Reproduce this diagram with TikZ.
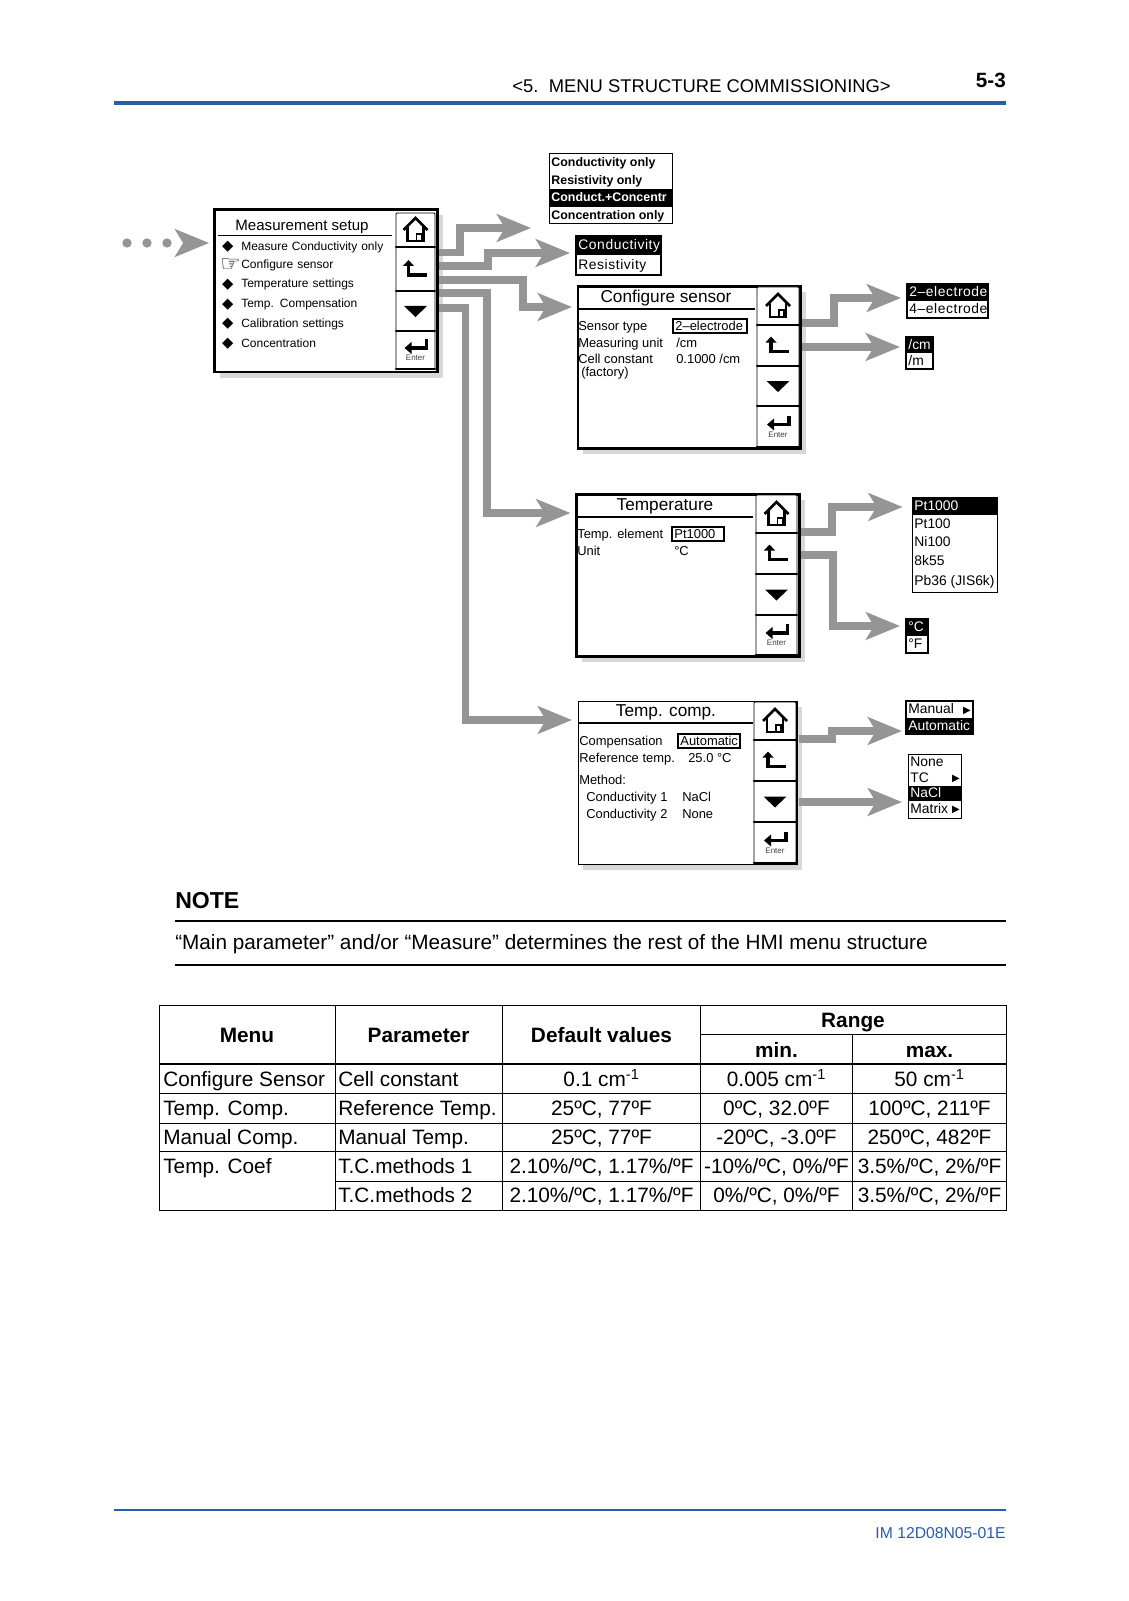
\documentclass[tikz,border=0pt]{standalone}
\usepackage{fontspec}
\setmainfont{Liberation Sans}
\newfontfamily\symbfont{DejaVu Sans}
\usepackage{xcolor}
\usetikzlibrary{positioning,arrows.meta,shapes.geometric,shadows}
\definecolor{flowgray}{HTML}{959595}
\definecolor{shadowgray}{HTML}{D8D8D8}
\definecolor{pageblue}{HTML}{2A5CAA}
\newcommand{\fsize}[1]{\fontsize{#1}{#1}\selectfont}
\tikzset{
  panel/.style={draw,fill=white,line width=2.2pt,copy shadow={shadow xshift=3.8pt,shadow yshift=-4.4pt,draw=none,fill=shadowgray}},
  softkey/.style={draw,fill=white,line width=.7pt,rounded corners=.8pt},
  keyedge/.style={line width=1.9pt,line cap=round},
  flow/.style={draw=flowgray,line width=5.4pt,shorten <=1.2pt,shorten >=4.5pt,-{Stealth[length=25.5pt,width=20.5pt,inset=6pt]}},
  menutext/.style={font=\fsize{9},inner sep=0pt,text width=120pt,align=left,text height=7pt,text depth=2pt,minimum height=14.4pt},
  paneltext/.style={font=\fsize{9.7},inner sep=0pt,anchor=west,text height=7pt,text depth=2pt,yshift=-.75pt},
  paneltitle/.style={font=\fsize{12.9},inner sep=0pt,text height=9.5pt,text depth=2.8pt,yshift=-1.2pt},
  symb/.style={font=\symbfont\fsize{11},inner sep=0pt},
  optrow/.style={font=\fsize{10.4},inner sep=0pt,text height=8.4pt,text depth=2pt},
  optsel/.style={optrow,fill=black,text=white},
  spaced/.style={font=\fsize{10.4}\addfontfeature{LetterSpace=4}},
  boldrow/.style={optrow,font=\bfseries\fsize{9.3},text height=8pt},
  boldsel/.style={boldrow,fill=black,text=white},
  optframe/.style={draw,line width=.75pt},
  valbox/.style={optrow,draw,line width=.8pt,font=\fsize{9.7}},
  headtext/.style={font=\bfseries\fsize{15.6},inner sep=0pt,text height=11.5pt,text depth=3.4pt,yshift=-1.5pt},
  cellc/.style={font=\fsize{15.6},inner sep=0pt,text height=11.5pt,text depth=3.4pt,yshift=-1.5pt},
  celll/.style={cellc,anchor=west},
  rule/.style={line width=.75pt},
  homeicon/.pic={
    \draw[line width=1.9pt,line join=miter] (-12,0) -- (0,-12) -- (12,0);
    \draw[line width=1.6pt] (-8,-3) -- (-8,11) -- (8,11) -- (8,-3);
    \draw[line width=1pt] (1,11) -- (1,4) -- (6,4) -- (6,11);
  },
  backicon/.pic={
    \fill (-7,-9) -- (-1.5,-3) -- (-12.5,-3) -- cycle;
    \draw[line width=2.3pt] (-7,-4) -- (-7,6) -- (11,6);
  },
  downicon/.pic={
    \fill (-11.5,-5) -- (11.5,-5) -- (0,6) -- cycle;
  },
  entericon/.pic={
    \draw[line width=2.3pt] (11,-11) -- (11,-2) -- (-5,-2);
    \fill (-11,-2) -- (-4,-8) -- (-4,4) -- cycle;
    \node[font=\fsize{6},text=black!75,inner sep=0pt] (label) at (0,8) {Enter};
  },
}
% x1 y1 x2 y2 are picture coordinates of the corners
\newcommand{\boxnode}[7]{%
  \pgfmathsetmacro{\boxwd}{(#5-#3)*.75}%
  \pgfmathsetmacro{\boxht}{(#6-#4)*.75}%
  \node[#1,anchor=north west,outer sep=0pt,minimum width=\boxwd pt,minimum height=\boxht pt] (#2) at (#3,#4) {#7};}
\newcommand{\rownode}[7]{%
  \pgfmathsetmacro{\rowwd}{(#5-#3)*.75-3.6}%
  \boxnode{#1}{#2}{#3}{#4}{#5}{#6}{\makebox[\rowwd pt][l]{#7}}}
% the four keys at the right of a panel
\newcommand{\softkeys}[8]{%
  \boxnode{softkey}{#1home}{#2}{#4}{#3}{#5}{}
  \boxnode{softkey}{#1back}{#2}{#5}{#3}{#6}{}
  \boxnode{softkey}{#1down}{#2}{#6}{#3}{#7}{}
  \boxnode{softkey}{#1enter}{#2}{#7}{#3}{#8}{}
  \draw[keyedge] (#1home.south west) -- (#1home.south east);
  \draw[keyedge] (#1back.south west) -- (#1back.south east);
  \draw[keyedge] (#1down.south west) -- (#1down.south east);
  \draw[keyedge] (#1enter.south west) -- (#1enter.south east);
  \pic at (#1home) {homeicon};
  \pic at (#1back) {backicon};
  \pic at (#1down) {downicon};
  \pic (#1enterpic) at (#1enter) {entericon};}

\begin{document}
\begin{tikzpicture}[x=.75pt,y=-.75pt,node distance=0pt]
\path[use as bounding box,fill=white] (0,0) rectangle (1128,1601);

% page head
\node[font=\fsize{13.8},inner sep=0pt,anchor=base east] (pagehead) at (891,92.5) {<5.~~MENU STRUCTURE COMMISSIONING>};
\node[font=\bfseries\fsize{15.5},inner sep=0pt,anchor=base east] (pagenum) at (1006,88) {5-3};
\draw[pageblue,line width=3pt] (114,103.5) -- (1006,103.5);

% measurement setup
\node[circle,fill=flowgray,minimum size=7pt,inner sep=0pt] (dota) at (127,243) {};
\node[circle,fill=flowgray,minimum size=7pt,inner sep=0pt] (dotb) at (147,243) {};
\node[circle,fill=flowgray,minimum size=7pt,inner sep=0pt] (dotc) at (167,243) {};
\boxnode{panel}{setup}{214.5}{209.5}{437.5}{372}{}
\softkeys{setup}{396}{435}{213}{247}{291}{331}{369}
\node[font=\fsize{11.3},inner sep=0pt] (setuptitle) at (302,227) {Measurement setup};
\draw[line width=.8pt] (218,235.5) -- (392,235.5);
\node[menutext,anchor=west] (meas) at (241,247) {Measure Conductivity only};
\node[menutext,below=of meas,yshift=1pt] (conf) {Configure sensor};
\node[menutext,below=of conf,yshift=.5pt] (temp) {Temperature settings};
\node[menutext,below=of temp] (comp) {Temp. Compensation};
\node[menutext,below=of comp] (calib) {Calibration settings};
\node[menutext,below=of calib] (conc) {Concentration};
\node[symb,left=5.5pt of meas] (bula) {◆};
\node[symb,font=\symbfont\fsize{17},left=0pt of conf] (hand) {☞};
\node[symb,left=5.5pt of temp] (bulb) {◆};
\node[symb,left=5.5pt of comp] (bulc) {◆};
\node[symb,left=5.5pt of calib] (buld) {◆};
\node[symb,left=5.5pt of conc] (bule) {◆};

% mode lists
\rownode{boldrow}{moderowa}{549}{154}{672}{172}{Conductivity only}
\rownode{boldrow}{moderowb}{549}{172}{672}{189}{Resistivity only}
\rownode{boldsel}{moderowc}{549}{189}{672}{207}{Conduct.+Concentr}
\rownode{boldrow}{moderowd}{549}{207}{672}{224}{Concentration only}
\boxnode{optframe}{mode}{549}{154}{672}{224}{}
\rownode{optsel,spaced}{mainrowa}{576}{236}{661}{255}{Conductivity}
\rownode{optrow,spaced}{mainrowb}{576}{255}{661}{275}{Resistivity}
\boxnode{optframe,line width=1.3pt}{main}{576}{236}{661}{275}{}

% configure sensor
\boxnode{panel}{config}{578}{286.5}{800.5}{448.5}{}
\softkeys{config}{757}{799}{287}{325}{366}{406}{447}
\node[paneltitle] (configtitle) at (666,296) {Configure sensor};
\draw[line width=.8pt] (578,309) -- (755,309);
\node[paneltext] (cfgtype) at (578,326) {Sensor type};
\node[paneltext] (cfgunit) at (578,343) {Measuring unit};
\node[paneltext] (cfgcell) at (578,359) {Cell constant};
\node[paneltext] (cfgfact) at (581,372) {(factory)};
\rownode{valbox}{cfgtypeval}{673}{319}{747}{333}{2–electrode}
\node[paneltext] (cfgunitval) at (676,343) {/cm};
\node[paneltext] (cfgcellval) at (676,359) {0.1000 /cm};
\rownode{optsel,spaced}{elecrowa}{907}{284}{988}{301}{2–electrode}
\rownode{optrow,spaced}{elecrowb}{907}{301}{988}{318}{4–electrode}
\boxnode{optframe,line width=1.3pt}{elec}{907}{284}{988}{318}{}
\rownode{optsel}{unitrowa}{906}{337}{933}{353}{/cm}
\rownode{optrow}{unitrowb}{906}{353}{933}{369}{/m}
\boxnode{optframe,line width=1.3pt}{unit}{906}{337}{933}{369}{}

% temperature
\boxnode{panel}{temper}{576.5}{494.5}{799.5}{656.5}{}
\softkeys{temper}{756}{797}{495}{533}{574}{615}{655}
\node[paneltitle] (tempertitle) at (665,504) {Temperature};
\draw[line width=.8pt] (576,517) -- (753,517);
\node[paneltext] (tempelem) at (577,534) {Temp. element};
\node[paneltext] (tempunit) at (577,551) {Unit};
\rownode{valbox}{tempelemval}{672}{527}{724}{541}{Pt1000}
\node[paneltext] (tempunitval) at (674,551) {°C};
\rownode{optsel}{ptrowa}{912}{497}{997}{515}{Pt1000}
\rownode{optrow}{ptrowb}{912}{515}{997}{533}{Pt100}
\rownode{optrow}{ptrowc}{912}{533}{997}{552}{Ni100}
\rownode{optrow}{ptrowd}{912}{552}{997}{571}{8k55}
\rownode{optrow}{ptrowe}{912}{571}{997}{591}{Pb36 (JIS6k)}
\boxnode{optframe}{ptlist}{912}{497}{997}{592}{}
\rownode{optsel}{degrowa}{906}{619}{928}{636}{°C}
\rownode{optrow}{degrowb}{906}{636}{928}{653}{°F}
\boxnode{optframe,line width=1.3pt}{deg}{906}{619}{928}{653}{}

% temp. comp.
\boxnode{panel,line width=.75pt}{tcomp}{578}{701}{797}{864}{}
\softkeys{tcomp}{754}{796}{702}{740}{781}{822}{863}
\draw[line width=1.8pt] (797,702) -- (797,864);
\node[paneltitle,yshift=.5pt] (tcomptitle) at (666,711) {Temp. comp.};
\draw[line width=.8pt] (578,723) -- (753,723);
\node[paneltext] (tccomp) at (579,741) {Compensation};
\node[paneltext] (tcref) at (579,758) {Reference temp.};
\node[paneltext] (tcmeth) at (579,780) {Method:};
\node[paneltext] (tcone) at (586,797) {Conductivity 1};
\node[paneltext] (tctwo) at (586,814) {Conductivity 2};
\rownode{valbox}{tccompval}{678}{734}{740}{748}{Automatic}
\node[paneltext] (tcrefval) at (688,758) {25.0 °C};
\node[paneltext] (tconeval) at (682,797) {NaCl};
\node[paneltext] (tctwoval) at (682,814) {None};
\rownode{optrow}{manrowa}{906}{701}{973}{718}{Manual}
\rownode{optsel}{manrowb}{906}{718}{973}{734}{Automatic}
\boxnode{optframe,line width=1.3pt}{man}{906}{701}{973}{734}{}
\node[symb,font=\symbfont\fsize{7.5}] (mantri) at (967,711) {▶};
\rownode{optrow}{methrowa}{908}{754}{961}{770}{None}
\rownode{optrow}{methrowb}{908}{770}{961}{786}{TC}
\rownode{optsel}{methrowc}{908}{786}{961}{801}{NaCl}
\rownode{optrow}{methrowd}{908}{801}{961}{818}{Matrix}
\boxnode{optframe}{meth}{908}{754}{961}{818}{}
\node[symb,font=\symbfont\fsize{7.5}] (tctri) at (956,779) {▶};
\node[symb,font=\symbfont\fsize{7.5}] (mxtri) at (956,810) {▶};

% connectors
\draw[flow,shorten <=8pt,shorten >=4pt] (dotc) -- (setup.west |- dotc);
\draw[flow,shorten >=13.5pt] (setup.east |- 0,252.5) -| (460,228) -- (mode.west |- 0,228);
\draw[flow] (setup.east |- 0,266) -| (488,253) -- (main.west |- 0,253);
\draw[flow] (setup.east |- 0,280) -| (523,307) -- (config.west |- 0,307);
\draw[flow] (setup.east |- 0,293) -| (487,513) -- (temper.west |- 0,513);
\draw[flow] (setup.east |- 0,308) -| (465.5,720) -- (tcomp.west |- 0,720);
\draw[flow] (config.east |- 0,323) -| (834,298) -- (elec.west |- 0,298);
\draw[flow] (config.east |- 0,347) -- (unit.west |- 0,347);
\draw[flow,shorten >=7pt] (temper.east |- 0,532) -| (832,507) -- (ptlist.west |- 0,507);
\draw[flow] (temper.east |- 0,555) -| (833,626) -- (deg.west |- 0,626);
\draw[flow,shorten >=3pt] (tcomp.east |- 0,739) -| (832,731) -- (man.west |- 0,731);
\draw[flow,shorten >=4.5pt] (tcomp.east |- 0,802) -- (meth.west |- 0,802);

% note
\node[font=\bfseries\fsize{17.3},inner sep=0pt,anchor=base west] (note) at (175,908) {NOTE};
\draw[line width=1.5pt] (175,921) -- (1006,921);
\node[font=\fsize{15.55},inner sep=0pt,anchor=base west] (notetext) at (175,949) {“Main parameter” and/or “Measure” determines the rest of the HMI menu structure};
\draw[line width=1.5pt] (175,965) -- (1006,965);

% table
\draw[rule] (159,1005.5) rectangle (1006,1210);
\draw[rule] (335,1005.5) -- (335,1210);
\draw[rule] (502,1005.5) -- (502,1210);
\draw[rule] (700,1005.5) -- (700,1210);
\draw[rule] (852.5,1034) -- (852.5,1210);
\draw[rule] (700,1034) -- (1006,1034);
\draw[line width=1.6pt] (159,1064) -- (1006,1064);
\draw[rule] (159,1093) -- (1006,1093);
\draw[rule] (159,1123) -- (1006,1123);
\draw[rule] (159,1151.5) -- (1006,1151.5);
\draw[rule] (335,1181) -- (1006,1181);
\node[headtext] (hmenu) at (247,1035) {Menu};
\node[headtext] (hparam) at (418.5,1035) {Parameter};
\node[headtext] (hdefault) at (601.5,1035) {Default values};
\node[headtext] (hrange) at (853,1020) {Range};
\node[headtext] (hmin) at (776.5,1050) {min.};
\node[headtext] (hmax) at (929.5,1050) {max.};
\node[celll] (menua) at (163,1079) {Configure Sensor};
\node[celll] (parama) at (338,1079) {Cell constant};
\node[cellc] (defa) at (601.5,1079) {0.1 cm\textsuperscript{-1}};
\node[cellc] (mina) at (776.5,1079) {0.005 cm\textsuperscript{-1}};
\node[cellc] (maxa) at (929.5,1079) {50 cm\textsuperscript{-1}};
\node[celll] (menub) at (163,1108) {Temp. Comp.};
\node[celll] (paramb) at (338,1108) {Reference Temp.};
\node[cellc] (defb) at (601.5,1108) {25ºC, 77ºF};
\node[cellc] (minb) at (776.5,1108) {0ºC, 32.0ºF};
\node[cellc] (maxb) at (929.5,1108) {100ºC, 211ºF};
\node[celll] (menuc) at (163,1137) {Manual Comp.};
\node[celll] (paramc) at (338,1137) {Manual Temp.};
\node[cellc] (defc) at (601.5,1137) {25ºC, 77ºF};
\node[cellc] (minc) at (776.5,1137) {-20ºC, -3.0ºF};
\node[cellc] (maxc) at (929.5,1137) {250ºC, 482ºF};
\node[celll] (menud) at (163,1166) {Temp. Coef};
\node[celll] (paramd) at (338,1166) {T.C.methods 1};
\node[cellc] (defd) at (601.5,1166) {2.10\%/ºC, 1.17\%/ºF};
\node[cellc] (mind) at (776.5,1166) {-10\%/ºC, 0\%/ºF};
\node[cellc] (maxd) at (929.5,1166) {3.5\%/ºC, 2\%/ºF};
\node[celll] (parame) at (338,1195) {T.C.methods 2};
\node[cellc] (defe) at (601.5,1195) {2.10\%/ºC, 1.17\%/ºF};
\node[cellc] (mine) at (776.5,1195) {0\%/ºC, 0\%/ºF};
\node[cellc] (maxe) at (929.5,1195) {3.5\%/ºC, 2\%/ºF};

% page foot
\draw[pageblue,line width=2pt] (114,1510) -- (1006,1510);
\node[font=\fsize{11.8},text=pageblue,inner sep=0pt,anchor=base east] (pagefoot) at (1006,1538) {IM 12D08N05-01E};
\end{tikzpicture}
\end{document}
